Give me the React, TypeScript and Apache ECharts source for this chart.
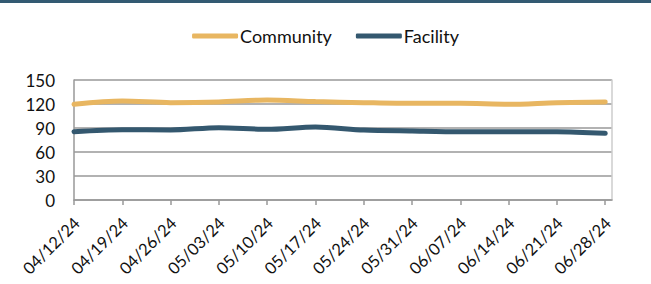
import React, { useEffect, useRef } from "react";
import * as echarts from "echarts";

const categories = ["04/12/24", "04/19/24", "04/26/24", "05/03/24", "05/10/24", "05/17/24", "05/24/24", "05/31/24", "06/07/24", "06/14/24", "06/21/24", "06/28/24"];
const community = [119.6, 123.7, 121.7, 122.5, 125, 123, 121.7, 120.8, 120.8, 119.6, 121.7, 122.5];
const facility = [85.4, 87.9, 87.5, 90.4, 88.3, 91.2, 87.5, 86.3, 85.4, 85.4, 85.4, 83.3];
const yTicks = { min: 0, max: 150, interval: 30 };

const FONT = "Lato";

export default function App() {
  const ref = useRef<HTMLDivElement>(null);
  useEffect(() => {
    if (!ref.current) return;
    const chart = echarts.init(ref.current, undefined, { renderer: "svg" });
    chart.setOption({
      animation: false,
      textStyle: { fontFamily: FONT },
      graphic: [
        { type: "rect", left: 0, top: 0, shape: { width: 651, height: 3 }, style: { fill: "#335a72" } },
      ],
      legend: {
        top: 22,
        left: "center",
        itemWidth: 46,
        itemHeight: 5,
        itemGap: 24,
        icon: "roundRect",
        textStyle: { fontFamily: FONT, fontSize: 18, color: "#111", padding: [0, 0, 0, -3] },
        data: ["Community", "Facility"],
      },
      grid: { left: 74, right: 39, top: 80, bottom: 84, containLabel: false, outerBoundsMode: "none" },
      xAxis: {
        type: "value",
        min: 0,
        max: 11.14,
        interval: 1,
        axisLine: { show: true, lineStyle: { color: "#999", width: 1.5 } },
        axisTick: { show: true, length: 5, lineStyle: { color: "#999", width: 1.5 } },
        splitLine: { show: false },
        axisLabel: {
          rotate: 45,
          margin: 23,
          fontSize: 16.5,
          color: "#111",
          fontFamily: FONT,
          showMaxLabel: false,
          padding: [0, -4, 0, 0],
          formatter: (v: number) => (Number.isInteger(v) ? categories[v] ?? "" : ""),
        },
      },
      yAxis: [
        {
          type: "value",
          min: yTicks.min,
          max: yTicks.max,
          interval: yTicks.interval,
          axisLine: { show: true, lineStyle: { color: "#999", width: 1.5 } },
          axisTick: { show: false },
          splitLine: { show: true, lineStyle: { color: "#999", width: 1.5 } },
          axisLabel: { fontSize: 17, color: "#111", margin: 19, fontFamily: FONT },
        },
        {
          type: "value",
          position: "right",
          min: yTicks.min,
          max: yTicks.max,
          interval: yTicks.interval,
          axisLine: { show: true, lineStyle: { color: "#ccc", width: 1.5 } },
          axisTick: { show: false },
          axisLabel: { show: false },
          splitLine: { show: false },
        },
      ],
      series: [
        {
          name: "Community",
          type: "line",
          smooth: 0.3,
          symbol: "none",
          data: community.map((v, i) => [i, v]),
          lineStyle: { width: 5, color: "#e8b661", cap: "round" },
          itemStyle: { color: "#e8b661" },
        },
        {
          name: "Facility",
          type: "line",
          smooth: 0.3,
          symbol: "none",
          data: facility.map((v, i) => [i, v]),
          lineStyle: { width: 5, color: "#34586f", cap: "round" },
          itemStyle: { color: "#34586f" },
        },
      ],
    });
    return () => chart.dispose();
  }, []);
  return <div ref={ref} style={{ width: 651, height: 284, position: "absolute", left: 0, top: 0 }} />;
}
